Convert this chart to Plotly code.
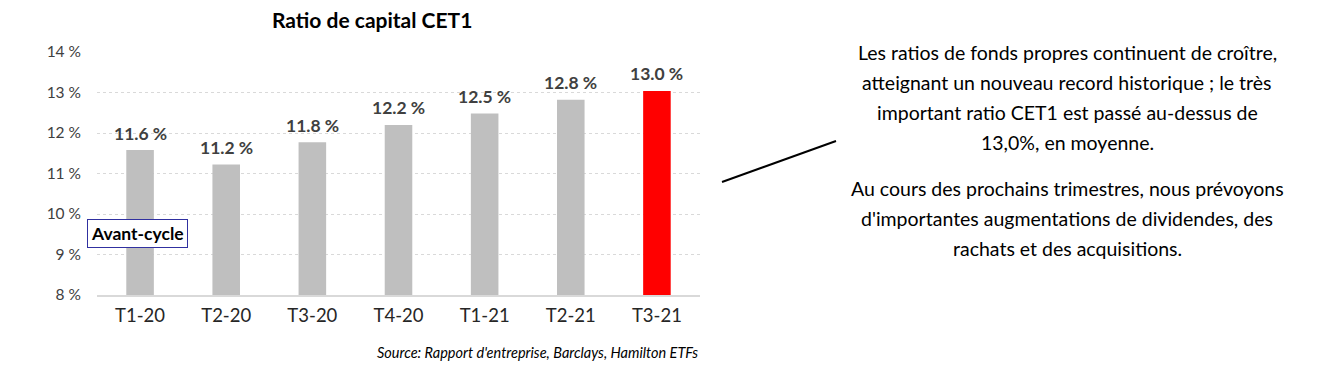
import plotly.graph_objects as go

categories = ["T1-20", "T2-20", "T3-20", "T4-20", "T1-21", "T2-21", "T3-21"]
values = [11.58, 11.22, 11.77, 12.2, 12.48, 12.82, 13.04]
labels = ["11.6 %", "11.2 %", "11.8 %", "12.2 %", "12.5 %", "12.8 %", "13.0 %"]
colors = ["#bfbfbf"] * 6 + ["#ff0000"]
y_ticks = [8, 9, 10, 11, 12, 13, 14]
y_ticklabels = [f"{v} %" for v in y_ticks]

title = "Ratio de capital CET1"
box_label = "Avant-cycle"
source = "Source: Rapport d'entreprise, Barclays, Hamilton ETFs"
comment_lines = [
    "Les ratios de fonds propres continuent de croître,",
    "atteignant un nouveau record historique ; le très",
    "important ratio CET1 est passé au-dessus de",
    "13,0%, en moyenne.",
    "Au cours des prochains trimestres, nous prévoyons",
    "d'importantes augmentations de dividendes, des",
    "rachats et des acquisitions.",
]
comment_y_px = [52, 82, 112, 142, 188, 218, 248]

FONT = "Lato"
W, H = 1344, 376
L, R, T, B = 97, 644, 52, 81
pw, ph = W - L - R, H - T - B

def px_x(x):
    return (x - L) / pw

def px_y(y):
    return (H - B - y) / ph

fig = go.Figure()
fig.add_trace(go.Bar(
    x=categories, y=values, marker_color=colors, marker_line_width=0,
    width=0.32, hoverinfo="skip",
))

annotations = [
    dict(text=f"<b>{title}</b>", xref="paper", yref="paper", x=px_x(372), y=px_y(19),
         showarrow=False, font=dict(family=FONT, size=21, color="#000000"),
         xanchor="center", yanchor="middle"),
    dict(text=f"<b>{box_label}</b>", xref="paper", yref="paper", x=px_x(137), y=px_y(233),
         showarrow=False, font=dict(family=FONT, size=17.5, color="#000000"),
         xanchor="center", yanchor="middle", bgcolor="#ffffff",
         bordercolor="#3030a0", borderwidth=1, borderpad=3),
    dict(text=f"<i>{source}</i>", xref="paper", yref="paper", x=px_x(700), y=px_y(352),
         showarrow=False, font=dict(family=FONT, size=14.5, color="#000000"),
         xanchor="right", yanchor="middle"),
]
for cat, val, lab in zip(categories, values, labels):
    annotations.append(dict(text=f"<b>{lab}</b>", x=cat, y=val, xref="x", yref="y",
                            showarrow=False, yanchor="middle", yshift=17,
                            font=dict(family=FONT, size=17.5, color="#404040")))
for line, ypx in zip(comment_lines, comment_y_px):
    annotations.append(dict(text=line, xref="paper", yref="paper", x=px_x(1067), y=px_y(ypx),
                            showarrow=False, font=dict(family=FONT, size=19.5, color="#000000"),
                            xanchor="center", yanchor="middle"))

fig.update_layout(
    width=W, height=H,
    margin=dict(l=L, r=R, t=T, b=B),
    paper_bgcolor="#ffffff", plot_bgcolor="#ffffff",
    showlegend=False,
    hovermode=False,
    annotations=annotations,
    shapes=[dict(type="line", xref="paper", yref="paper",
                 x0=px_x(722), y0=px_y(182), x1=px_x(836), y1=px_y(141),
                 line=dict(color="#000000", width=2))],
    xaxis=dict(tickfont=dict(family=FONT, size=18.5, color="#262626"), showgrid=False,
               showline=True, linecolor="#d9d9d9", linewidth=1.5, ticks="", ticklabelstandoff=3),
    yaxis=dict(range=[8, 14], tickvals=y_ticks, ticktext=y_ticklabels,
               tickfont=dict(family=FONT, size=15.5, color="#404040"),
               showgrid=True, gridcolor="#d9d9d9", griddash="3px,3px", gridwidth=1,
               zeroline=False, ticks="", ticklabelstandoff=15),
)

fig.write_html("out.html", config={"displayModeBar": False, "staticPlot": True},
               post_script="document.body.style.margin='0';")
